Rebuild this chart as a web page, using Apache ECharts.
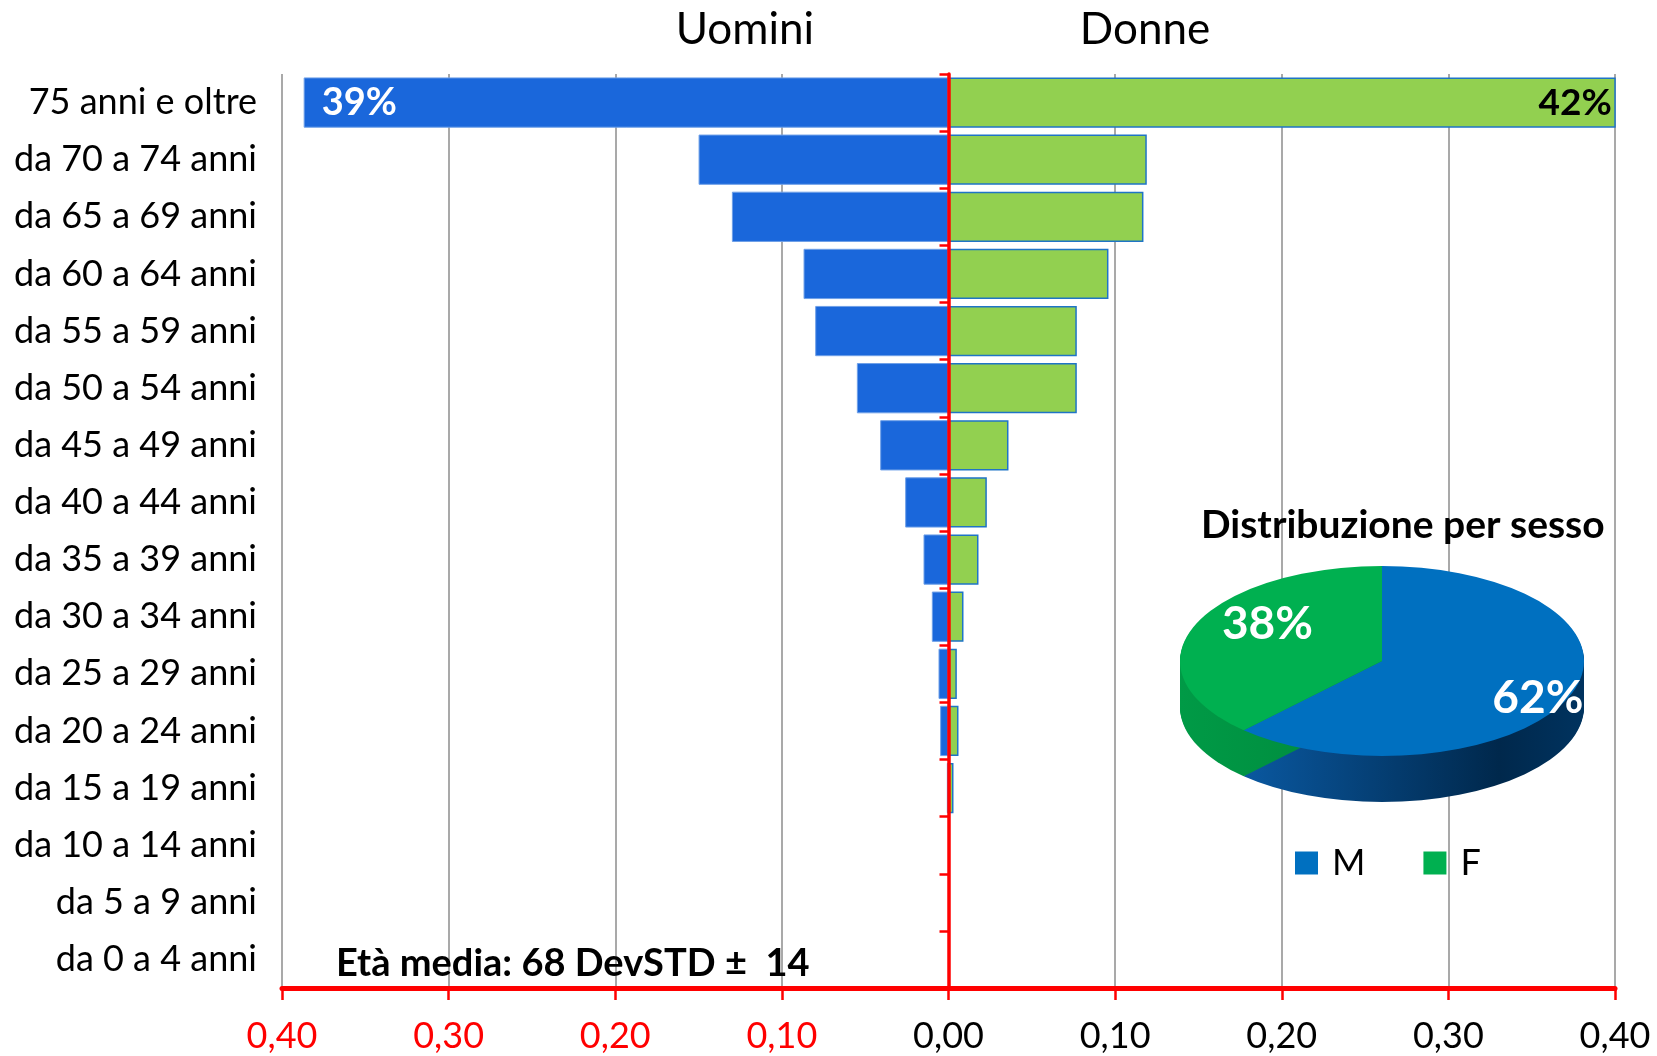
<!DOCTYPE html>
<html>
<head>
<meta charset="utf-8">
<script src="https://cdn.jsdelivr.net/npm/echarts@6/dist/echarts.min.js"></script>
<style>
  html, body { margin: 0; padding: 0; background: #fff; }
  #chart { width: 1657px; height: 1056px; }
</style>
</head>
<body>
<div id="chart"></div>
<script>
// classi di eta (dall'alto verso il basso)
var ageClasses = ['75 anni e oltre', 'da 70 a 74 anni', 'da 65 a 69 anni', 'da 60 a 64 anni',
	'da 55 a 59 anni', 'da 50 a 54 anni', 'da 45 a 49 anni', 'da 40 a 44 anni',
	'da 35 a 39 anni', 'da 30 a 34 anni', 'da 25 a 29 anni', 'da 20 a 24 anni',
	'da 15 a 19 anni', 'da 10 a 14 anni', 'da 5 a 9 anni', 'da 0 a 4 anni'];
var uomini = [0.387, 0.150, 0.130, 0.087, 0.080, 0.055, 0.041, 0.026,
	0.015, 0.010, 0.006, 0.005, 0.001, 0, 0, 0];
var donne = [0.42, 0.119, 0.117, 0.096, 0.077, 0.077, 0.036, 0.023,
	0.018, 0.009, 0.005, 0.006, 0.003, 0, 0, 0];
var xTicks = [-0.4, -0.3, -0.2, -0.1, 0, 0.1, 0.2, 0.3, 0.4];

// torta per sesso
var sexNames = ['M', 'F'];
var sexValues = [62, 38];

var FONT = 'Lato';
var myChart = echarts.init(document.getElementById('chart'));

var sexColors = ['#0070C0', '#00B050'];
var sideColors = [
	new echarts.graphic.LinearGradient(0, 0, 1, 0, [
		{ offset: 0, color: '#0a58a0' }, { offset: 0.75, color: '#00284c' }, { offset: 1, color: '#00335f' }]),
	new echarts.graphic.LinearGradient(0, 0, 1, 0, [
		{ offset: 0, color: '#009a46' }, { offset: 1, color: '#00883c' }])
];
// posizione etichette nella torta (fattori sul raggio x / y)
var labelPos = [[0.83, 1.05], [0.61, 1.05]];
var PX = 1382, PY = 661, RX = 202, RY = 95, DEPTH = 46;

function pieSlice(si) {
	return function(params, api) {
		var total = 0, before = 0;
		for (var j = 0; j < sexValues.length; j++) {
			total += sexValues[j];
			if (j < si) before += sexValues[j];
		}
		var start = -Math.PI / 2 + before / total * 2 * Math.PI;
		var end = start + api.value(0) / total * 2 * Math.PI;
		var ratio = RY / RX;
		var parts = [];
		for (var k = DEPTH; k >= 1; k--) {
			parts.push({
				type: 'sector', z2: 1,
				shape: { cx: 0, cy: k / ratio, r: RX, startAngle: start, endAngle: end },
				style: { fill: sideColors[si] }
			});
		}
		parts.push({
			type: 'sector', z2: 5,
			shape: { cx: 0, cy: 0, r: RX, startAngle: start, endAngle: end },
			style: { fill: sexColors[si] }
		});
		var mid = (start + end) / 2;
		return {
			type: 'group',
			children: [
				{ type: 'group', x: PX, y: PY, scaleY: ratio, children: parts },
				{
					type: 'text', z2: 20,
					x: PX + Math.cos(mid) * RX * labelPos[si][0],
					y: PY + Math.sin(mid) * RY * labelPos[si][1],
					style: {
						text: api.value(0) + '%', fill: '#fff', font: 'bold 46px ' + FONT,
						align: 'center', verticalAlign: 'middle'
					}
				}
			]
		};
	};
}

function noZero(v) { return v === 0 ? null : v; }

var option = {
	animation: false,
	grid: { left: 282, right: 42, top: 74, bottom: 68 },
	xAxis: {
		type: 'value', min: -0.4, max: 0.4, interval: 0.1,
		axisLine: { show: true, lineStyle: { color: '#ff0000', width: 5 } },
		axisTick: { show: true, length: 12, lineStyle: { color: '#ff0000', width: 2.5 } },
		splitLine: { show: true, lineStyle: { color: '#8c8c8c', width: 1.5 } },
		axisLabel: {
			margin: 30, fontSize: 36, fontFamily: FONT,
			color: function(v) { return Number(v) < 0 ? '#ff0000' : '#000000'; },
			formatter: function(v) { return Math.abs(v).toFixed(2).replace('.', ','); }
		}
	},
	yAxis: [{
		type: 'category', data: ageClasses, inverse: true,
		axisLine: { show: false, onZero: false },
		axisTick: { show: false },
		axisLabel: { margin: 25, fontSize: 36, fontFamily: FONT, color: '#000' }
	}, {
		type: 'category', data: ageClasses, inverse: true, position: 'left', z: 10,
		axisLine: { show: true, onZero: true, lineStyle: { color: '#ff0000', width: 3.5 } },
		axisTick: { show: true, length: 9, lineStyle: { color: '#ff0000', width: 2.5 } },
		axisLabel: { show: false }
	}],
	legend: {
		data: sexNames, left: 1290, top: 840, icon: 'rect',
		itemWidth: 23, itemHeight: 23, itemGap: 58,
		textStyle: { fontSize: 36, fontFamily: FONT, color: '#000', padding: [0, 0, 0, 9] }
	},
	graphic: [
		{ type: 'text', x: 745, y: 30, style: { text: 'Uomini', font: '44px ' + FONT, fill: '#000', align: 'center', verticalAlign: 'middle' } },
		{ type: 'text', x: 1145, y: 30, style: { text: 'Donne', font: '44px ' + FONT, fill: '#000', align: 'center', verticalAlign: 'middle' } },
		{ type: 'text', x: 336, y: 964, z: 100, style: { text: 'Età media: 68 DevSTD ±  14', font: 'bold 38px ' + FONT, fill: '#000', align: 'left', verticalAlign: 'middle' } },
		{ type: 'text', x: 1201, y: 525, z: 100, style: { text: 'Distribuzione per sesso', font: 'bold 39px ' + FONT, fill: '#000', align: 'left', verticalAlign: 'middle' } }
	],
	series: [{
		name: 'Uomini', type: 'bar', barGap: '-100%', barCategoryGap: '12%',
		data: uomini.map(function(v) { return noZero(-v); }),
		itemStyle: { color: '#1A67DB', borderColor: '#6fa0e8', borderWidth: 1 },
		label: {
			show: true, position: 'insideLeft', distance: 18,
			color: '#fff', fontSize: 38, fontWeight: 'bold', fontFamily: FONT,
			formatter: function(p) { return p.dataIndex === 0 ? Math.round(-p.value * 100) + '%' : ''; }
		}
	}, {
		name: 'Donne', type: 'bar', barCategoryGap: '12%',
		data: donne.map(noZero),
		itemStyle: { color: '#92D050', borderColor: '#1f74c6', borderWidth: 1.5 },
		label: {
			show: true, position: 'insideRight', distance: 4,
			color: '#000', fontSize: 37, fontWeight: 'bold', fontFamily: FONT,
			formatter: function(p) { return p.dataIndex === 0 ? Math.round(p.value * 100) + '%' : ''; }
		}
	}, {
		name: 'M', type: 'custom', coordinateSystem: 'none',
		itemStyle: { color: sexColors[0] },
		data: [sexValues[0]], renderItem: pieSlice(0)
	}, {
		name: 'F', type: 'custom', coordinateSystem: 'none',
		itemStyle: { color: sexColors[1] },
		data: [sexValues[1]], renderItem: pieSlice(1)
	}]
};
myChart.setOption(option);
</script>
</body>
</html>
